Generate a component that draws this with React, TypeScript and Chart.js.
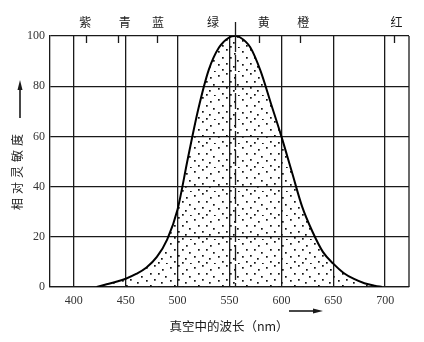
import React, { useEffect, useRef } from 'react';
import { Chart, registerables } from 'chart.js';

Chart.register(...registerables);

// Wavelength (nm) and relative sensitivity (%)
const wavelengths = [422, 430, 440, 450, 460, 470, 480, 490, 500, 510, 520, 530, 540, 550, 555, 560, 570, 580, 590, 600, 610, 620, 630, 640, 650, 660, 670, 680, 690, 697];
const sensitivity = [0, 0.9, 2.0, 3.3, 5.2, 7.8, 12, 19, 31, 51.5, 71, 86.5, 95.5, 99.5, 100, 99.5, 95.5, 86, 73, 60, 46, 32, 22, 14, 9.3, 5.6, 3.2, 1.5, 0.5, 0];

const xTickValues = [400, 450, 500, 550, 600, 650, 700];
const yTickValues = [0, 20, 40, 60, 80, 100];
const xRange = [377, 723];

const colorNames = ['紫', '青', '蓝', '绿', '黄', '橙', '红'];
const colorNamePositions = [411, 449, 481, 534, 583, 621, 711];
const colorTickMarks = [412, 443, 480, 578, 618, 709];
const peakWavelength = 555;

const yTitle = '相对灵敏度';
const xTitle = '真空中的波长（nm）';

const SERIF = '"Liberation Serif", "DejaVu Serif", serif';
const CJK = '"Noto Sans CJK SC", sans-serif';
const INK = '#1a1a1a';

function makeDotPattern(): CanvasPattern | string {
  const c = document.createElement('canvas');
  c.width = 24;
  c.height = 24;
  const g = c.getContext('2d');
  if (!g) return 'rgba(0,0,0,0.2)';
  g.fillStyle = '#111';
  const dots = [[2, 3], [10, 1], [18, 5], [6, 9], [14, 9], [21, 12], [2, 16], [10, 15], [17, 18], [6, 21], [14, 22], [22, 23]];
  dots.forEach(([x, y]) => g.fillRect(x, y, 1.7, 1.7));
  return g.createPattern(c, 'repeat') as CanvasPattern;
}

const decorPlugin = {
  id: 'decor',
  afterDraw(chart: any) {
    const { ctx, chartArea: a, scales } = chart;
    const xs = scales.x;
    ctx.save();
    ctx.strokeStyle = INK;
    ctx.lineWidth = 1.3;
    // right border
    ctx.beginPath();
    ctx.moveTo(a.right, a.top);
    ctx.lineTo(a.right, a.bottom);
    ctx.stroke();
    // top tick marks
    colorTickMarks.forEach((w) => {
      const px = Math.round(xs.getPixelForValue(w)) + 0.5;
      ctx.beginPath();
      ctx.moveTo(px, a.top);
      ctx.lineTo(px, a.top + 7);
      ctx.stroke();
    });
    // peak line
    const pk = Math.round(xs.getPixelForValue(peakWavelength)) + 0.5;
    ctx.beginPath();
    ctx.moveTo(pk, a.top - 14);
    ctx.lineTo(pk, a.top);
    ctx.stroke();
    ctx.setLineDash([16, 3]);
    ctx.beginPath();
    ctx.moveTo(pk, a.top);
    ctx.lineTo(pk, a.bottom);
    ctx.stroke();
    ctx.setLineDash([]);
    // colour names
    ctx.fillStyle = INK;
    ctx.font = `12px ${CJK}`;
    ctx.textAlign = 'center';
    ctx.textBaseline = 'middle';
    colorNames.forEach((n, i) => {
      ctx.fillText(n, xs.getPixelForValue(colorNamePositions[i]), 22);
    });
    // y title rotated
    ctx.save();
    ctx.translate(17, 172);
    ctx.rotate(-Math.PI / 2);
    ctx.font = `12px ${CJK}`;
    ctx.letterSpacing = '4px';
    ctx.fillText(yTitle, 2, 0);
    ctx.restore();
    // up arrow
    ctx.lineWidth = 1.6;
    ctx.beginPath();
    ctx.moveTo(20, 118);
    ctx.lineTo(20, 86);
    ctx.stroke();
    ctx.beginPath();
    ctx.moveTo(20, 80);
    ctx.lineTo(17.5, 90);
    ctx.lineTo(22.5, 90);
    ctx.closePath();
    ctx.fill();
    // x title
    ctx.font = `12.5px ${CJK}`;
    ctx.fillText(xTitle, 229, 326);
    // right arrow
    ctx.beginPath();
    ctx.moveTo(289, 311);
    ctx.lineTo(316, 311);
    ctx.stroke();
    ctx.beginPath();
    ctx.moveTo(323, 311);
    ctx.lineTo(313, 308.5);
    ctx.lineTo(313, 313.5);
    ctx.closePath();
    ctx.fill();
    ctx.restore();
  },
};

export default function App() {
  const ref = useRef<HTMLCanvasElement>(null);
  useEffect(() => {
    if (!ref.current) return;
    const pattern = makeDotPattern();
    const chart = new Chart(ref.current, {
      type: 'line',
      data: {
        datasets: [
          {
            data: wavelengths.map((w, i) => ({ x: w, y: sensitivity[i] })),
            borderColor: '#000',
            borderWidth: 2,
            backgroundColor: pattern as any,
            fill: 'origin',
            pointRadius: 0,
            cubicInterpolationMode: 'monotone',
          },
        ],
      },
      options: {
        animation: false,
        responsive: false,
        events: [],
        layout: { padding: { left: 0, top: 36, right: 15, bottom: 0 } },
        plugins: { legend: { display: false }, tooltip: { enabled: false } },
        scales: {
          x: {
            type: 'linear',
            min: xRange[0],
            max: xRange[1],
            afterBuildTicks: (s: any) => {
              s.ticks = xTickValues.map((v) => ({ value: v }));
            },
            afterFit: (s: any) => {
              s.height = 55;
            },
            grid: { color: INK, lineWidth: 1.3, drawTicks: false },
            border: { color: INK, width: 1.3 },
            ticks: {
              padding: 7,
              color: '#333',
              font: { family: SERIF, size: 12 },
              maxRotation: 0,
              autoSkip: false,
            },
          },
          y: {
            min: 0,
            max: 100,
            afterBuildTicks: (s: any) => {
              s.ticks = yTickValues.map((v) => ({ value: v }));
            },
            afterFit: (s: any) => {
              s.width = 50;
            },
            grid: { color: INK, lineWidth: 1.3, drawTicks: false },
            border: { color: INK, width: 1.3 },
            ticks: {
              padding: 5,
              color: '#333',
              font: { family: SERIF, size: 12 },
            },
          },
        },
      },
      plugins: [decorPlugin],
    });
    return () => chart.destroy();
  }, []);
  return (
    <div style={{ position: 'fixed', left: 0, top: 0, width: 424, height: 342, background: '#fff' }}>
      <canvas ref={ref} width={424} height={342} style={{ width: 424, height: 342 }} />
    </div>
  );
}
